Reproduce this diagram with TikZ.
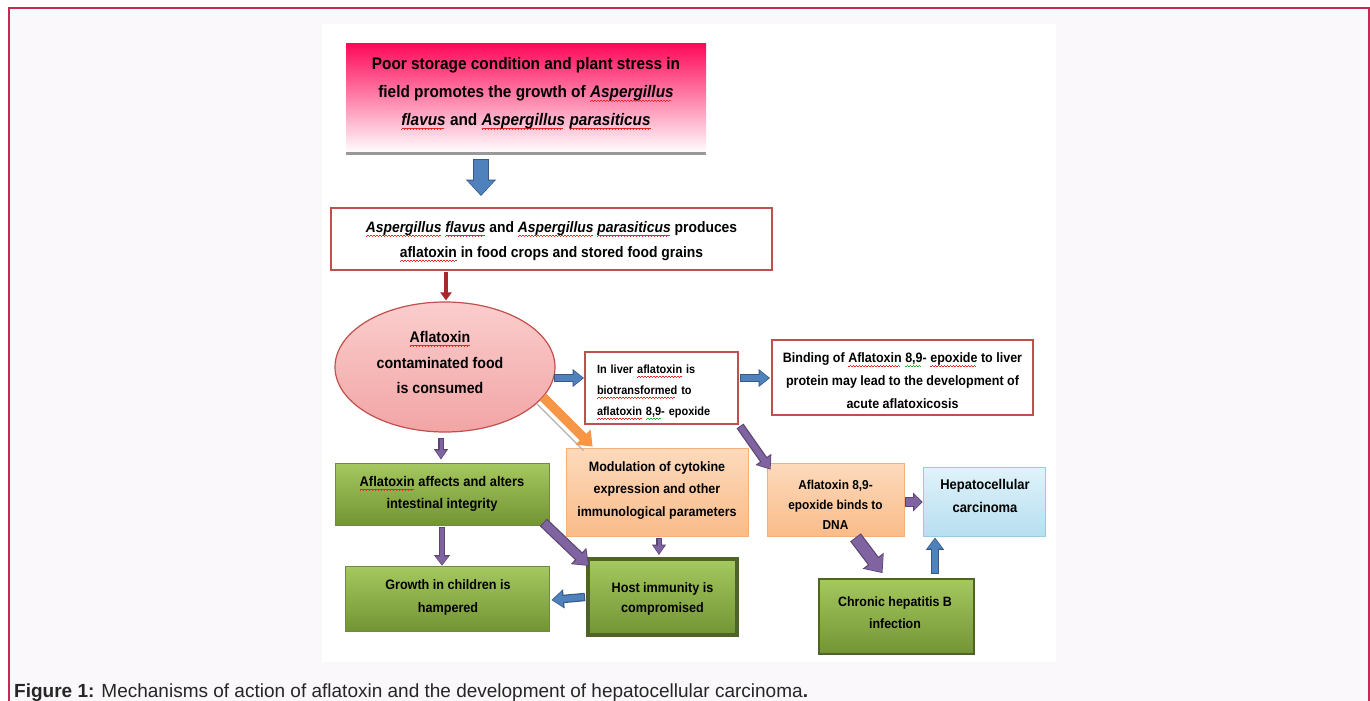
\documentclass[tikz,border=0pt]{standalone}
\usepackage{fontspec}
\setmainfont{Liberation Sans}[FakeStretch=0.92]
\newfontfamily\capfont{Liberation Sans}
\usetikzlibrary{arrows.meta,shapes.geometric}
\definecolor{framecol}{RGB}{200,40,85}
\definecolor{pagebg}{RGB}{250,248,250}
\definecolor{boxred}{RGB}{192,80,77}
\definecolor{pinktop}{RGB}{255,10,90}
\definecolor{elltop}{RGB}{251,205,205}
\definecolor{ellbot}{RGB}{242,165,165}
\definecolor{grntop}{RGB}{165,200,95}
\definecolor{grnbot}{RGB}{115,148,52}
\definecolor{grnedge}{RGB}{110,140,60}
\definecolor{grndark}{RGB}{79,98,40}
\definecolor{ortop}{RGB}{252,218,188}
\definecolor{orbot}{RGB}{250,188,138}
\definecolor{oredge}{RGB}{245,175,120}
\definecolor{bltop}{RGB}{224,243,250}
\definecolor{blbot}{RGB}{183,222,240}
\definecolor{bledge}{RGB}{150,205,225}
\definecolor{arblue}{RGB}{79,129,189}
\definecolor{arpurple}{RGB}{128,100,162}
\definecolor{arorange}{RGB}{247,150,70}
\definecolor{arred}{RGB}{165,40,45}
\definecolor{spellred}{RGB}{230,40,40}
\definecolor{spellgreen}{RGB}{40,170,60}
% spell-check squiggle underline (drawn with small rules)
\newcommand\wavebit{\rule[-3.7pt]{0.75pt}{0.55pt}\rule[-3.2pt]{0.75pt}{0.55pt}\rule[-2.7pt]{0.75pt}{0.55pt}\rule[-3.2pt]{0.75pt}{0.55pt}}
\newcommand\squig[2]{\setbox0\hbox{#2}\leavevmode\rlap{\smash{\textcolor{#1}{\hbox to \wd0{\leaders\hbox{\wavebit}\hfill}}}}\box0\relax}
\newcommand\rsq[1]{\squig{spellred}{#1}}
\newcommand\gsq[1]{\squig{spellgreen}{#1}}
% #1 outline, #2 fill, #3 from, #4 to, #5 shaft, #6 head width, #7 head length
\newcommand\blkarrow[7]{%
  \pgfmathsetmacro\bkA{#5+2.4}\pgfmathsetmacro\bkB{#6+3.5}\pgfmathsetmacro\bkC{#7+2.5}%
  \draw[#1, line width=\bkA pt, -{Triangle[width=\bkB pt,length=\bkC pt]}] #3 -- #4;%
  \draw[#2, line width=#5pt, shorten >=1.3pt, shorten <=1pt, -{Triangle[width=#6pt,length=#7pt]}] #3 -- #4;}
\tikzset{
  txt/.style={align=center, inner sep=0pt, font=\bfseries},
  redbox/.style={rectangle, draw=boxred, line width=2pt, fill=white, inner sep=0pt},
  greenbox/.style={rectangle, draw=grnedge, line width=0.8pt, top color=grntop, bottom color=grnbot, inner sep=0pt},
  orbox/.style={rectangle, draw=oredge, line width=0.8pt, top color=ortop, bottom color=orbot, inner sep=0pt},
  blbox/.style={rectangle, draw=bledge, line width=0.8pt, top color=bltop, bottom color=blbot, inner sep=0pt},
}
\begin{document}
\begin{tikzpicture}[x=1pt,y=-1pt]
\useasboundingbox (0,0) rectangle (1370,701);
\clip (0,0) rectangle (1370,701);
\fill[white] (0,0) rectangle (1370,701);
\draw[framecol, line width=1.5pt, fill=pagebg] (9,8) rectangle (1369,760);
\fill[white] (322,24) rectangle (1056,662);

% top box
\node[rectangle, inner sep=0pt, minimum width=360pt, minimum height=109pt, top color=pinktop, middle color=pinktop!22, bottom color=white] (topbox) at (526,98.5) {};
\draw[gray!80, line width=3pt] (topbox.south west) -- (topbox.south east);
\node[txt, font=\bfseries\fontsize{16.7}{28}\selectfont] (toptext) at (526,93.5) {Poor storage condition and plant stress in\\ field promotes the growth of \textit{\rsq{Aspergillus}}\\ \textit{\rsq{flavus}} and \textit{\rsq{Aspergillus}} \textit{\rsq{parasiticus}}};

% production box
\node[redbox, minimum width=441pt, minimum height=62pt] (prod) at (551.5,239) {};
\node[txt, font=\bfseries\fontsize{15.1}{25}\selectfont] (prodtext) at (551.5,241) {\textit{\rsq{Aspergillus} \rsq{flavus}} and \textit{\rsq{Aspergillus} \rsq{parasiticus}} produces\\ \rsq{aflatoxin} in food crops and stored food grains};

% ellipse
\node[ellipse, draw=boxred, line width=1.2pt, top color=elltop, bottom color=ellbot, minimum width=220pt, minimum height=130pt] (ell) at (445,367) {};
\node[txt, font=\bfseries\fontsize{15.4}{25.5}\selectfont] (elltext) at (440,362.5) {\rsq{Aflatoxin}\\ contaminated food\\ is consumed};

% liver box
\node[redbox, minimum width=153pt, minimum height=72pt] (liver) at (661.5,388) {};
\node[txt, text width=129pt, align=left, font=\bfseries\fontsize{11.9}{21}\selectfont] (livertext) at (661.5,391.5) {In liver \rsq{aflatoxin} is\\ \rsq{biotransformed} to\\ \rsq{aflatoxin} \gsq{8,9}- epoxide};

% binding box
\node[redbox, minimum width=261pt, minimum height=75pt] (bind) at (902.5,377.5) {};
\node[txt, font=\bfseries\fontsize{13.6}{23}\selectfont] (bindtext) at (902.5,381) {Binding of \rsq{Aflatoxin} \gsq{8,9}- \rsq{epoxide} to liver\\ protein may lead to the development of\\ acute aflatoxicosis};

% intestinal box
\node[greenbox, minimum width=214pt, minimum height=62pt] (intest) at (442,494) {};
\node[txt, font=\bfseries\fontsize{14}{22}\selectfont] (intext) at (442,494) {\rsq{Aflatoxin} affects and alters\\ intestinal integrity};

% modulation box
\node[orbox, minimum width=182pt, minimum height=88pt] (modul) at (657,492) {};
\node[txt, font=\bfseries\fontsize{13.6}{22.5}\selectfont] (modtext) at (657,490.5) {Modulation of cytokine\\ expression and other\\ immunological parameters};

% growth box
\node[greenbox, minimum width=204pt, minimum height=65pt] (growth) at (447,598.5) {};
\node[txt, font=\bfseries\fontsize{13.7}{23}\selectfont] (growtext) at (448,597.5) {Growth in children is\\ hampered};

% host box
\node[rectangle, draw=grndark, line width=4pt, top color=grntop, bottom color=grnbot, minimum width=149pt, minimum height=76pt, inner sep=0pt] (host) at (662.5,597) {};
\node[txt, font=\bfseries\fontsize{13.7}{20}\selectfont] (hosttext) at (662.5,599) {Host immunity is\\ compromised};

% DNA box
\node[orbox, minimum width=137pt, minimum height=73pt] (dna) at (835.5,499.5) {};
\node[txt, font=\bfseries\fontsize{12.9}{20}\selectfont] (dnatext) at (835.5,505) {Aflatoxin 8,9-\\ epoxide binds to\\ DNA};

% hepatocellular box
\node[blbox, minimum width=122pt, minimum height=69pt] (hep) at (984,501.5) {};
\node[txt, font=\bfseries\fontsize{14.1}{23}\selectfont] (heptext) at (985,496) {Hepatocellular\\ carcinoma};

% chronic box
\node[rectangle, draw=grndark, line width=1.8pt, top color=grntop, bottom color=grnbot, minimum width=155pt, minimum height=75pt, inner sep=0pt] (chronic) at (896.5,616.5) {};
\node[txt, font=\bfseries\fontsize{13.5}{22}\selectfont] (chrtext) at (895,612.5) {Chronic hepatitis B\\ infection};

% connectors
\blkarrow{arblue!70!black}{arblue}{([xshift=-45pt,yshift=-6pt]topbox.south)}{([xshift=-70.5pt,yshift=11pt]prod.north)}{14}{26}{14}
\draw[arred, line width=4pt, -{Triangle[width=11pt,length=8pt]}] ([xshift=-105.5pt,yshift=-1pt]prod.south) -- ([xshift=1pt,yshift=1pt]ell.north);
\blkarrow{arblue!70!black}{arblue}{([xshift=-2pt,yshift=-11pt]ell.east)}{([yshift=10pt]liver.west)}{6}{14}{9}
\blkarrow{arblue!70!black}{arblue}{([xshift=1pt,yshift=10pt]liver.east)}{([xshift=-1pt,yshift=-0.5pt]bind.west)}{6}{14}{9}
\draw[gray!60, line width=1.2pt] ([xshift=92pt,yshift=-37pt]ell.center) -- ([xshift=18pt,yshift=-3pt]modul.north west);
\blkarrow{arorange}{arorange}{([xshift=98pt,yshift=-30pt]ell.center)}{([xshift=27pt,yshift=1pt]modul.north west)}{7}{17}{11}
\blkarrow{arpurple!70!black}{arpurple}{([xshift=1pt,yshift=-1pt]liver.south east)}{([xshift=4pt,yshift=-7pt]dna.north west)}{6}{15}{10}
\blkarrow{arpurple!70!black}{arpurple}{([xshift=-4pt,yshift=-5pt]ell.south)}{([xshift=-1pt,yshift=3pt]intest.north)}{3}{10}{8}
\blkarrow{arpurple!70!black}{arpurple}{([yshift=-2pt]intest.south)}{([xshift=-5pt]growth.north)}{4}{12}{8}
\blkarrow{arpurple!70!black}{arpurple}{([xshift=-6pt,yshift=3pt]intest.south east)}{([xshift=3pt,yshift=-9pt]host.north west)}{8}{18}{12}
\blkarrow{arpurple!70!black}{arpurple}{([xshift=2pt,yshift=-2pt]modul.south)}{([xshift=-3.5pt,yshift=2pt]host.north)}{3}{10}{8}
\blkarrow{arblue!70!black}{arblue}{([xshift=-1pt]host.west)}{([xshift=2pt,yshift=-1.5pt]growth.east)}{6}{15}{10}
\blkarrow{arpurple!70!black}{arpurple}{([xshift=1pt,yshift=-2.5pt]dna.east)}{([yshift=-0.5pt]hep.west)}{8}{15}{7}
\blkarrow{arpurple!70!black}{arpurple}{([xshift=20pt,yshift=-1pt]dna.south)}{([xshift=-14pt,yshift=5pt]chronic.north)}{11}{22}{13}
\blkarrow{arblue!70!black}{arblue}{([xshift=38.5pt,yshift=4pt]chronic.north)}{([xshift=-49pt,yshift=-1pt]hep.south)}{6}{14}{10}

% caption
\node[anchor=base west, inner sep=0pt, text=black!85, font=\capfont\fontsize{19}{22}\selectfont] (cap) at (14,697) {\textbf{Figure 1:} Mechanisms of action of aflatoxin and the development of hepatocellular carcinoma\textbf{.}};
\end{tikzpicture}
\end{document}
